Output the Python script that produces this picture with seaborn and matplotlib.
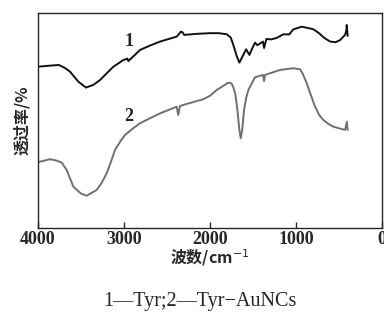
import numpy as np
import pandas as pd
import matplotlib
matplotlib.use("Agg")
import matplotlib.pyplot as plt
import seaborn as sns

# curve 1: Tyr
wn1 = [4000, 3860, 3760, 3724, 3680, 3628, 3530, 3442, 3360, 3279, 3200, 3124, 3008, 2960, 2950,
       2900, 2814, 2700, 2581, 2388, 2355, 2340, 2320, 2300, 2150, 2000, 1900, 1806, 1760, 1729,
       1690, 1659, 1620, 1581, 1542, 1510, 1477, 1450, 1426, 1385, 1372, 1345, 1290, 1225,
       1147, 1080, 1031, 934, 860, 798, 730, 682, 605, 540, 488, 430, 415, 411, 400]
t1 = [75.0, 75.5, 75.8, 75.2, 74.2, 72.7, 68.0, 65.3, 66.5, 68.8, 72.0, 75.0, 78.1, 78.8, 77.6,
      79.5, 82.8, 84.8, 86.7, 89.0, 90.5, 91.3, 91.0, 89.8, 90.3, 90.6, 90.6, 90.1, 88.6, 85.1,
      80.0, 76.9, 80.0, 83.1, 80.5, 83.5, 86.2, 85.0, 85.6, 86.7, 83.7, 87.9, 87.7, 88.4,
      90.1, 90.0, 92.4, 93.6, 93.0, 92.4, 90.5, 88.7, 86.7, 86.4, 87.4, 89.8, 92.0, 94.4, 89.3]

# curve 2: Tyr-AuNCs
wn2 = [4000, 3860, 3780, 3724, 3667, 3589, 3500, 3434, 3318, 3260, 3202, 3150, 3105,
       3040, 2988, 2900, 2814, 2700, 2581, 2388, 2370, 2350, 2271, 2078, 2000, 1922,
       1850, 1787, 1750, 1729, 1705, 1682, 1660, 1643, 1625, 1605, 1580, 1554, 1477,
       1385, 1372, 1360, 1186, 1031, 953, 920, 876, 830, 779, 730, 682, 620, 566,
       430, 410, 400]
t2 = [30.6, 32.0, 31.3, 30.4, 27.0, 19.2, 16.0, 15.0, 17.7, 21.0, 25.4, 31.0, 36.3,
      40.5, 43.3, 46.2, 48.7, 51.0, 53.3, 56.4, 52.6, 56.7, 57.7, 59.9, 61.5, 64.2,
      66.0, 67.6, 67.2, 65.4, 62.0, 54.9, 46.0, 41.7, 46.0, 54.9, 60.5, 64.2, 70.1,
      71.2, 68.4, 71.2, 73.5, 74.3, 73.8, 71.5, 67.3, 62.0, 56.4, 52.5, 50.2, 48.3, 47.1,
      45.6, 49.4, 45.6]

df = pd.concat([
    pd.DataFrame({"wn": wn1, "t": t1, "s": "1"}),
    pd.DataFrame({"wn": wn2, "t": t2, "s": "2"}),
])

sns.set_style("ticks")
serif = ["Liberation Serif", "Noto Sans CJK SC", "DejaVu Sans"]
cjk = ["Noto Sans CJK SC", "Liberation Serif", "DejaVu Sans"]
plt.rcParams["font.family"] = serif

fig = plt.figure(figsize=(3.84, 3.2), dpi=100)
ax = fig.add_axes([0.099, 0.2875, 0.896, 0.672])
sns.lineplot(data=df, x="wn", y="t", hue="s", palette={"1": "#111111", "2": "#707070"},
             sort=False, estimator=None, lw=1.4, legend=False, ax=ax)

ax.set_xlim(4000, 0)
ax.set_ylim(0, 100)
ax.set_xticks([4000, 3000, 2000, 1000, 0])
ax.set_xticklabels(["4000", "3000", "2000", "1000", "0"], fontsize=13, fontweight="bold")
ax.set_yticks([])
ax.tick_params(axis="x", direction="in", length=4, width=1, pad=2)
for sp in ax.spines.values():
    sp.set_linewidth(1.0)

ax.set_xlabel("波数/cm$^{-1}$", fontsize=11.5, fontweight="bold", family=cjk, labelpad=0)
ax.set_ylabel("透过率/%", fontsize=11.5, fontweight="bold", family=cjk, labelpad=6)

ax.text(2940, 86.5, "1", fontsize=13, fontweight="bold", ha="center", va="center")
ax.text(2940, 52, "2", fontsize=13, fontweight="bold", ha="center", va="center")

fig.text(0.52, 0.057, "1—Tyr;2—Tyr−AuNCs", fontsize=14.5, ha="center", va="center")

fig.savefig("out.png", dpi=100)
